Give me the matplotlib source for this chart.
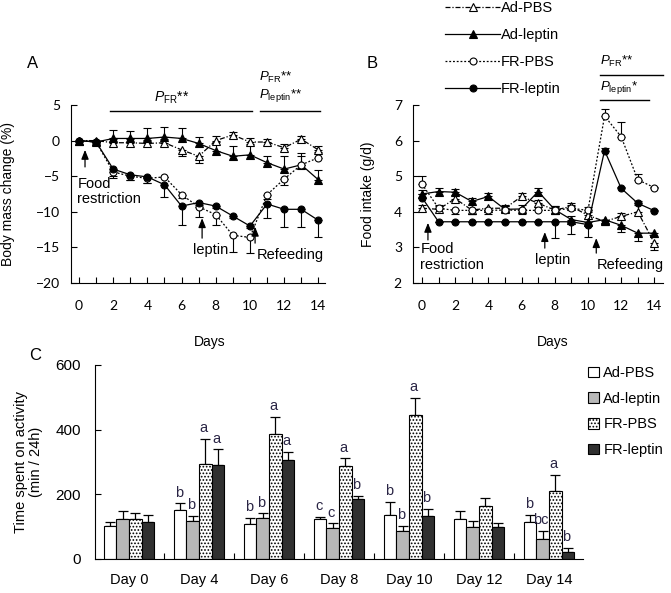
import numpy as np
import matplotlib
matplotlib.use("Agg")
import matplotlib.pyplot as plt

FONT = ['Liberation Sans Narrow', 'Liberation Sans', 'DejaVu Sans']
plt.rcParams['font.family'] = FONT
plt.rcParams['mathtext.fontset'] = 'custom'
plt.rcParams['mathtext.rm'] = 'Liberation Sans'
plt.rcParams['mathtext.it'] = 'Liberation Sans:italic'
plt.rcParams['hatch.linewidth'] = 0.8

# ---------------- data ----------------
days = list(range(15))
day_ticks = [0, 2, 4, 6, 8, 10, 12, 14]
groups = ['Ad-PBS', 'Ad-leptin', 'FR-PBS', 'FR-leptin']

# Panel A: body mass change (%) ; signed SE (+ up, - down)
mass_ad_pbs = [0, 0, -0.3, -0.3, -0.4, -0.3, -1.3, -2.2, 0.0, 0.8, -0.2, -0.2, -1.0, 0.2, -1.3]
mass_ad_pbs_err = [0, 0, 0.5, 0.5, 0.5, 0.5, -0.8, -1.0, 0.6, 0.4, 0.6, 0.4, 0.5, 0.5, 0.5]
mass_ad_lep = [0, -0.2, 0.3, 0.3, 0.3, 0.5, 0.3, -0.4, -1.4, -2.2, -2.0, -3.1, -4.0, -3.4, -5.5]
mass_ad_lep_err = [0, 0, 1.2, 1.0, 1.4, 1.4, 1.5, 0.9, 1.2, 1.5, 1.5, 1.0, 1.8, 1.6, 1.4]
mass_fr_pbs = [0, -0.2, -4.4, -5.0, -5.3, -5.1, -7.6, -9.3, -10.4, -13.3, -13.6, -7.6, -5.4, -3.4, -2.4]
mass_fr_pbs_err = [0, 0, -0.6, -0.6, -0.6, 0, -0.5, -1.4, -1.5, -2.3, -2.2, -0.6, -0.8, 1.3, 0.8]
mass_fr_lep = [0, -0.2, -4.0, -4.8, -5.1, -6.2, -9.2, -8.7, -9.2, -10.6, -12.0, -8.9, -9.65, -9.65, -11.2]
mass_fr_lep_err = [0, 0, -1.3, -0.8, -0.8, -1.7, -2.6, -0.3, -0.3, -0.3, -0.3, -2.0, -2.5, -2.5, -2.4]

# Panel B: food intake (g/d)
food_ad_pbs = [4.1, 4.07, 4.37, 4.05, 4.1, 4.1, 4.43, 4.24, 4.05, 4.15, 3.9, 3.73, 3.87, 4.0, 3.12]
food_ad_pbs_err = [0.1, 0.1, 0.1, -0.1, -0.1, 0.1, 0.1, 0.1, 0.1, 0.1, 0.1, -0.1, 0.1, 0.2, -0.2]
food_ad_lep = [4.5, 4.57, 4.55, 4.29, 4.43, 4.07, 4.08, 4.57, 4.06, 3.78, 3.70, 3.78, 3.62, 3.40, 3.40]
food_ad_lep_err = [0.1, 0.1, 0.1, 0.1, 0.1, 0.1, 0.1, 0.1, 0.1, 0.1, 0.1, -0.1, -0.2, -0.22, -0.1]
food_fr_pbs = [4.78, 4.1, 4.04, 4.04, 4.04, 4.05, 4.04, 4.04, 4.04, 4.1, 4.04, 6.69, 6.11, 4.9, 4.68]
food_fr_pbs_err = [0.22, 0.1, -0.1, -0.1, -0.1, 0.1, -0.1, 0.1, 0.1, 0.1, 0.1, 0.2, 0.42, 0.17, 0.03]
food_fr_lep = [4.4, 3.72, 3.72, 3.72, 3.72, 3.72, 3.72, 3.72, 3.72, 3.72, 3.64, 5.72, 4.66, 4.24, 4.03]
food_fr_lep_err = [0.1, 0, 0, 0, 0, 0, 0, 0, -0.45, -0.35, -0.35, 0.07, 0.05, 0.05, 0.03]

# Panel C: time spent on activity (min / 24h)
activity_days = ['Day 0', 'Day 4', 'Day 6', 'Day 8', 'Day 10', 'Day 12', 'Day 14']
act_ad_pbs = [103, 152, 107, 123, 136, 123, 115]
act_ad_pbs_err = [12, 20, 19, 6, 41, 25, 21]
act_ad_lep = [123, 118, 126, 95, 88, 100, 63]
act_ad_lep_err = [25, 15, 15, 15, 14, 18, 25]
act_fr_pbs = [123, 294, 386, 288, 444, 164, 211]
act_fr_pbs_err = [18, 78, 54, 23, 53, 24, 49]
act_fr_lep = [115, 291, 306, 186, 133, 100, 21]
act_fr_lep_err = [21, 48, 26, 9, 22, 10, 12]
letters_ad_pbs = ['', 'b', 'b', 'c', 'b', '', 'b']
letters_ad_lep = ['', 'b', 'b', 'c', 'b', '', 'bc']
letters_fr_pbs = ['', 'a', 'a', 'a', 'a', '', 'a']
letters_fr_lep = ['', 'a', 'a', 'b', 'b', '', 'b']

# ---------------- figure ----------------
W, H = 671, 593
fig = plt.figure(figsize=(W / 100, H / 100), dpi=100)


def frac(x0, y0, x1, y1):
    return [x0 / W, 1 - y1 / H, (x1 - x0) / W, (y1 - y0) / H]


axA = fig.add_axes(frac(71, 105, 325, 283))
axB = fig.add_axes(frac(413, 105, 663, 283))
axC = fig.add_axes(frac(95, 365, 583, 559))

series_style = [
    dict(marker='^', mfc='white', mec='black', ls=(0, (4, 1.5, 1, 1.5)), ms=5.5),
    dict(marker='^', mfc='black', mec='black', ls='-', ms=5.5),
    dict(marker='o', mfc='white', mec='black', ls=(0, (1.5, 1.5)), ms=5),
    dict(marker='o', mfc='black', mec='black', ls='-', ms=5),
]

TICKFONT = ['Lato', 'Liberation Sans', 'DejaVu Sans']
TXT = ['Liberation Sans', 'DejaVu Sans']


def line_panel(ax, values, errs):
    handles = []
    for v, e, st, name in zip(values, errs, series_style, groups):
        v = np.asarray(v, float)
        e = np.asarray(e, float)
        up = np.where(e > 0, e, 0)
        dn = np.where(e < 0, -e, 0)
        ax.errorbar(days, v, yerr=[dn, up], fmt='none', ecolor='black',
                    elinewidth=0.8, capsize=3, capthick=0.8, zorder=2)
        h, = ax.plot(days, v, color='black', lw=0.9, ls=st['ls'], marker=st['marker'],
                     mfc=st['mfc'], mec=st['mec'], ms=st['ms'], mew=0.8, zorder=3,
                     label=name)
        handles.append(h)
    ax.spines['top'].set_visible(False)
    ax.spines['right'].set_visible(False)
    ax.set_xticks(day_ticks)
    ax.set_xticks(days, minor=True)
    ax.tick_params(axis='x', which='both', direction='in', length=4, width=0.8,
                   pad=12, labelsize=10)
    ax.tick_params(axis='y', direction='in', length=4, width=0.8, labelsize=10, pad=8)
    for lab in ax.get_xticklabels() + ax.get_yticklabels():
        lab.set_fontfamily(TICKFONT)
    ax.set_xlabel('Days', fontsize=10)
    return handles


def arrow(ax, x, ytip, ytail):
    ax.annotate('', xy=(x, ytip), xytext=(x, ytail),
                arrowprops=dict(arrowstyle='-|>,head_width=0.22,head_length=0.55',
                                color='black', lw=0.9, shrinkA=0, shrinkB=0),
                annotation_clip=False)


# ---- Panel A ----
line_panel(axA, [mass_ad_pbs, mass_ad_lep, mass_fr_pbs, mass_fr_lep],
           [mass_ad_pbs_err, mass_ad_lep_err, mass_fr_pbs_err, mass_fr_lep_err])
axA.set_xlim(-0.47, 14.39)
axA.set_ylim(-20, 5)
axA.set_yticks([5, 0, -5, -10, -15, -20])
axA.set_ylabel('Body mass change (%)', fontsize=10)
axA.yaxis.set_label_coords(-0.22, 0.5)
axA.xaxis.set_label_coords(0.547, -0.29)

arrow(axA, 0.35, -1.3, -3.7)
axA.text(-0.1, -5.1, 'Food\nrestriction', ha='left', va='top', fontsize=10.5,
         linespacing=1.1, family=TXT)
arrow(axA, 7.2, -10.9, -13.7)
axA.text(7.7, -15.4, 'leptin', ha='center', va='center', fontsize=10.5, family=TXT)
arrow(axA, 10.3, -12.1, -14.4)
axA.text(10.4, -16.1, 'Refeeding', ha='left', va='center', fontsize=10.5, family=TXT)

axA.plot([1.8, 10.1], [4.16, 4.16], color='black', lw=1, clip_on=False)
axA.plot([10.6, 14.1], [4.16, 4.16], color='black', lw=1, clip_on=False)
axA.text(5.4, 6.0, r'$\mathit{P}_{\mathrm{FR}}$**', ha='center', va='center', fontsize=10)
axA.text(10.5, 8.9, r'$\mathit{P}_{\mathrm{FR}}$**', ha='left', va='center', fontsize=9.5)
axA.text(10.5, 6.3, r'$\mathit{P}_{\mathrm{leptin}}$**', ha='left', va='center', fontsize=9.5)

# ---- Panel B ----
hB = line_panel(axB, [food_ad_pbs, food_ad_lep, food_fr_pbs, food_fr_lep],
                [food_ad_pbs_err, food_ad_lep_err, food_fr_pbs_err, food_fr_lep_err])
axB.set_xlim(-0.54, 14.52)
axB.set_ylim(2, 7)
axB.set_yticks([2, 3, 4, 5, 6, 7])
axB.set_ylabel('Food intake (g/d)', fontsize=10)
axB.yaxis.set_label_coords(-0.152, 0.5)
axB.xaxis.set_label_coords(0.56, -0.29)

arrow(axB, 0.36, 3.69, 3.21)
axB.text(-0.1, 3.14, 'Food\nrestriction', ha='left', va='top', fontsize=10.5,
         linespacing=1.1, family=TXT)
arrow(axB, 7.4, 3.43, 2.98)
axB.text(7.9, 2.65, 'leptin', ha='center', va='center', fontsize=10.5, family=TXT)
arrow(axB, 10.5, 3.26, 2.84)
axB.text(10.55, 2.5, 'Refeeding', ha='left', va='center', fontsize=10.5, family=TXT)

axB.plot([10.7, 14.5], [7.84, 7.84], color='black', lw=1, clip_on=False)
axB.plot([10.7, 13.7], [7.14, 7.14], color='black', lw=1, clip_on=False)
axB.text(10.7, 8.22, r'$\mathit{P}_{\mathrm{FR}}$**', ha='left', va='center', fontsize=9.5)
axB.text(10.7, 7.5, r'$\mathit{P}_{\mathrm{leptin}}$*', ha='left', va='center', fontsize=9.5)

fig.legend(handles=hB, labels=groups, loc='upper left',
           bbox_to_anchor=(445 / W, 1 - 1 / H), frameon=False, borderpad=0,
           handlelength=3.8, handletextpad=0.05, labelspacing=0.9, fontsize=10.5,
           borderaxespad=0)

# ---- Panel C ----
x = np.arange(len(activity_days))
bw = 0.18
offsets = [-1.5 * bw, -0.5 * bw, 0.5 * bw, 1.5 * bw]
bar_vals = [act_ad_pbs, act_ad_lep, act_fr_pbs, act_fr_lep]
bar_errs = [act_ad_pbs_err, act_ad_lep_err, act_fr_pbs_err, act_fr_lep_err]
bar_letters = [letters_ad_pbs, letters_ad_lep, letters_fr_pbs, letters_fr_lep]
bar_style = [
    dict(facecolor='white', hatch=None),
    dict(facecolor='#b8b8b8', hatch=None),
    dict(facecolor='white', hatch='.....'),
    dict(facecolor='#303030', hatch=None),
]
patches = []
for vals, errs, lets, off, st, name in zip(bar_vals, bar_errs, bar_letters, offsets,
                                           bar_style, groups):
    bars = axC.bar(x + off, vals, width=bw, facecolor=st['facecolor'], hatch=st['hatch'],
                   edgecolor='black', linewidth=0.8, label=name, zorder=2)
    axC.errorbar(x + off, vals, yerr=[np.zeros(len(vals)), errs], fmt='none',
                 ecolor='black', elinewidth=0.9, capsize=3.5, capthick=0.9, zorder=1)
    for xi, v, e, t in zip(x + off, vals, errs, lets):
        if t:
            axC.text(xi - 0.02, v + e + 12, t, ha='center', va='bottom', fontsize=10.5,
                     color='#2a2545')
    patches.append(bars)

axC.set_xlim(-0.486, 6.486)
axC.set_ylim(0, 600)
axC.set_yticks([0, 200, 400, 600])
axC.set_xticks(x)
axC.set_xticklabels(activity_days)
axC.set_xticks(x[:-1] + 0.5, minor=True)
axC.tick_params(axis='x', which='major', length=0, pad=10, labelsize=10.5)
axC.tick_params(axis='x', which='minor', direction='in', length=4, width=0.8)
axC.tick_params(axis='y', direction='in', length=4, width=0.8, labelsize=11, pad=10)
axC.spines['top'].set_visible(False)
axC.spines['right'].set_visible(False)
axC.set_ylabel('Time spent on activity\n(min / 24h)', fontsize=10.5, linespacing=1.1)
axC.yaxis.set_label_coords(-0.107, 0.5)

axC.legend(handles=patches, labels=groups, loc='upper left',
           bbox_to_anchor=(588 / W, 1 - 366 / H), bbox_transform=fig.transFigure,
           frameon=False, borderpad=0, handlelength=0.75, handleheight=0.75,
           handletextpad=0.3, labelspacing=0.8, fontsize=10.5, borderaxespad=0)

# panel letters
fig.text(33 / W, 1 - 63 / H, 'A', fontsize=12, ha='center', va='center')
fig.text(372 / W, 1 - 63 / H, 'B', fontsize=12, ha='center', va='center')
fig.text(35 / W, 1 - 355 / H, 'C', fontsize=12, ha='center', va='center')

fig.savefig('out.png', dpi=100)
